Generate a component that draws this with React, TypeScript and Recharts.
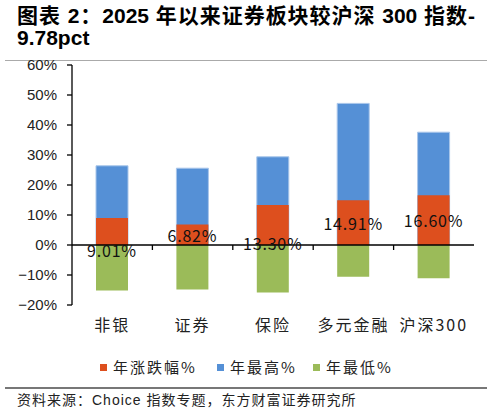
import { BarChart, Bar, XAxis, YAxis, ReferenceLine, LabelList } from "recharts"

const categories = ["非银", "证券", "保险", "多元金融", "沪深300"]
const yearChange = [9.01, 6.82, 13.3, 14.91, 16.6]
const yearHigh = [26.4, 25.6, 29.4, 47.2, 37.6]
const yearLow = [-15.2, -14.8, -15.8, -10.6, -11.1]
const yTicks = [-20, -10, 0, 10, 20, 30, 40, 50, 60]

// label offsets (px) to mimic the hand-moved labels in the original
const labelNudge = [19, 0, 18, 0, 0]

const RED = "#dd4f1e"
const BLUE = "#5590d6"
const GREEN = "#9bbb59"
const CJK = '"Noto Sans CJK SC", "Liberation Sans", sans-serif'
const LATIN = '"Liberation Sans", Arial, "Noto Sans CJK SC", sans-serif'

const data = categories.map((name, i) => ({
  name,
  change: yearChange[i],
  high: yearHigh[i],
  low: yearLow[i],
}))

const fmtY = (v: number) => (v < 0 ? `−${Math.abs(v)}%` : `${v}%`)

function CategoryTick(props: any) {
  const { x, y, payload } = props
  return (
    <text x={x} y={y + 26} textAnchor="middle" fontFamily={CJK} fontSize={16} letterSpacing={2} fill="#222">
      {payload.value}
    </text>
  )
}

function ZeroAxis(props: any) {
  const { x1, y1, x2 } = props
  const n = categories.length
  const step = (x2 - x1) / n
  const marks = []
  for (let k = 1; k < n; k++) {
    const x = x1 + step * k
    marks.push(<line key={k} x1={x} x2={x} y1={y1} y2={y1 + 5} stroke="#000" strokeWidth={1.3} />)
  }
  return (
    <g>
      <line x1={x1} x2={x2} y1={y1} y2={y1} stroke="#000" strokeWidth={1.3} />
      {marks}
    </g>
  )
}

function ChangeLabel(props: any) {
  const { x, y, width, height, value, index } = props
  return (
    <text
      x={x + width / 2}
      y={y + height / 2 + (labelNudge[index] || 0)}
      textAnchor="middle"
      dominantBaseline="central"
      fontFamily={CJK}
      fontSize={16}
      letterSpacing={0.8}
      fill="#111"
    >
      {`${Number(value).toFixed(2)}%`}
    </text>
  )
}

const legendItems = [
  { label: "年涨跌幅%", color: RED, left: 100 },
  { label: "年最高%", color: BLUE, left: 217 },
  { label: "年最低%", color: GREEN, left: 313 },
]

export default function App() {
  return (
    <div style={{ position: "absolute", left: 0, top: 0, width: 492, height: 413, background: "#fff" }}>
      <div
        style={{
          position: "absolute",
          left: 17,
          top: 5,
          width: 458,
          fontFamily: LATIN,
          fontWeight: "bold",
          fontSize: 21,
          lineHeight: "22px",
          color: "#000",
          textAlign: "justify",
          textAlignLast: "justify",
          whiteSpace: "nowrap",
        }}
      >
        图表 2：2025 年以来证券板块较沪深 300 指数-
      </div>
      <div
        style={{
          position: "absolute",
          left: 17,
          top: 27,
          fontFamily: LATIN,
          fontWeight: "bold",
          fontSize: 21,
          lineHeight: "22px",
          color: "#000",
        }}
      >
        9.78pct
      </div>
      <div style={{ position: "absolute", left: 5, top: 60, width: 482, height: 1, background: "#aaa" }} />

      <BarChart
        width={492}
        height={413}
        data={data}
        margin={{ top: 65, right: 18, bottom: 78, left: 0 }}
        barSize={32}
        style={{ position: "absolute", left: 0, top: 0 }}
      >
        <XAxis
          xAxisId="a"
          dataKey="name"
          axisLine={false}
          tickLine={false}
          tickSize={0}
          tickMargin={0}
          height={30}
          interval={0}
          tick={<CategoryTick />}
        />
        <XAxis xAxisId="b" dataKey="name" hide />
        <XAxis xAxisId="c" dataKey="name" hide />
        <YAxis
          domain={[-20, 60]}
          ticks={yTicks}
          interval={0}
          width={72}
          tickFormatter={fmtY}
          axisLine={{ stroke: "#000", strokeWidth: 1.3 }}
          tickLine={{ stroke: "#000", strokeWidth: 1.3 }}
          tickSize={5}
          tickMargin={10}
          tick={{ fontFamily: LATIN, fontSize: 15, fill: "#222" }}
        />
        <Bar xAxisId="b" dataKey="high" name="年最高%" fill={BLUE} stroke="#a9c6ea" strokeWidth={1} isAnimationActive={false} />
        <Bar xAxisId="c" dataKey="low" name="年最低%" fill={GREEN} isAnimationActive={false} />
        <Bar xAxisId="a" dataKey="change" name="年涨跌幅%" fill={RED} isAnimationActive={false}>
          <LabelList dataKey="change" content={<ChangeLabel />} />
        </Bar>
        <ReferenceLine xAxisId="a" y={0} shape={<ZeroAxis />} />
      </BarChart>

      {legendItems.map((it) => (
        <div
          key={it.label}
          style={{
            position: "absolute",
            left: it.left,
            top: 357,
            display: "flex",
            alignItems: "center",
            fontFamily: CJK,
            fontSize: 15,
            letterSpacing: 2,
            color: "#222",
            lineHeight: "20px",
          }}
        >
          <span style={{ display: "inline-block", width: 7, height: 7, background: it.color, marginRight: 6 }} />
          {it.label}
        </div>
      ))}

      <div style={{ position: "absolute", left: 5, top: 387, width: 482, height: 1.5, background: "#777" }} />
      <div
        style={{
          position: "absolute",
          left: 17,
          top: 391,
          fontFamily: LATIN,
          fontSize: 14,
          letterSpacing: 1,
          color: "#222",
          lineHeight: "18px",
          whiteSpace: "nowrap",
        }}
      >
        资料来源：Choice 指数专题，东方财富证券研究所
      </div>
    </div>
  )
}
